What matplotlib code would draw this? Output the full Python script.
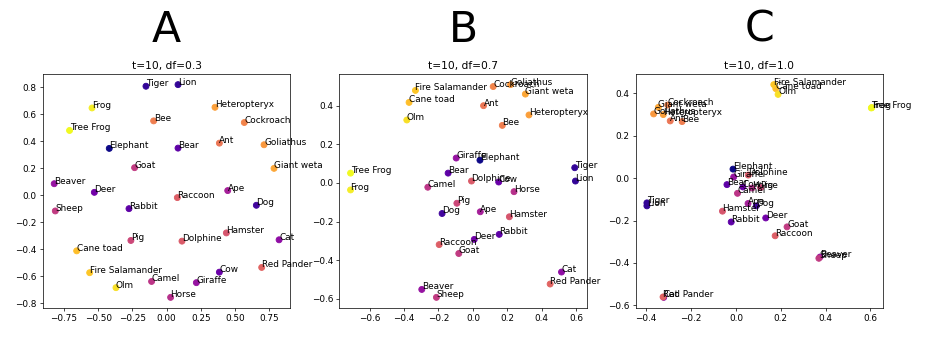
import matplotlib.pyplot as plt
import numpy as np

# animals and their colour value on the plasma map
animals = ["Elephant", "Tiger", "Lion", "Dog", "Bear", "Rabbit", "Cow", "Deer",
           "Cat", "Beaver", "Giraffe", "Ape", "Horse", "Camel", "Goat", "Sheep",
           "Pig", "Hamster", "Dolphine", "Raccoon", "Red Pander", "Ant", "Bee",
           "Cockroach", "Goliathus", "Heteropteryx", "Giant weta", "Cane toad",
           "Fire Salamander", "Olm", "Frog", "Tree Frog"]
shade = [0.0, 0.07, 0.07, 0.1, 0.17, 0.17, 0.2, 0.22,
         0.3, 0.32, 0.32, 0.36, 0.42, 0.44, 0.46, 0.46,
         0.5, 0.55, 0.57, 0.58, 0.6, 0.66, 0.68,
         0.7, 0.76, 0.78, 0.8, 0.86,
         0.88, 0.94, 0.97, 1.0]

# panel A: t=10, df=0.3
xa = [-0.419, -0.151, 0.083, 0.655, 0.083, -0.275, 0.385, -0.528,
      0.821, -0.821, 0.217, 0.446, 0.029, -0.110, -0.234, -0.813,
      -0.261, 0.436, 0.112, 0.078, 0.694, 0.385, -0.095,
      0.567, 0.711, 0.353, 0.784, -0.657,
      -0.562, -0.370, -0.545, -0.709]
ya = [0.348, 0.809, 0.821, -0.074, 0.350, -0.099, -0.570, 0.022,
      -0.330, 0.086, -0.648, 0.035, -0.757, -0.639, 0.205, -0.116,
      -0.335, -0.279, -0.340, -0.017, -0.535, 0.387, 0.552,
      0.540, 0.375, 0.653, 0.200, -0.412,
      -0.574, -0.685, 0.648, 0.481]

# panel B: t=10, df=0.7
xb = [0.041, 0.592, 0.596, -0.179, -0.144, 0.153, 0.150, 0.008,
      0.515, -0.297, -0.097, 0.043, 0.239, -0.262, -0.082, -0.212,
      -0.093, 0.212, -0.008, -0.196, 0.449, 0.062, 0.171,
      0.118, 0.219, 0.326, 0.305, -0.371,
      -0.334, -0.384, -0.711, -0.711]
yb = [0.118, 0.079, 0.010, -0.158, 0.051, -0.266, 0.005, -0.292,
      -0.461, -0.551, 0.129, -0.149, -0.045, -0.022, -0.365, -0.592,
      -0.105, -0.175, 0.010, -0.319, -0.523, 0.400, 0.298,
      0.499, 0.509, 0.352, 0.460, 0.417,
      0.479, 0.326, -0.036, 0.051]

# panel C: t=10, df=1.0
xc = [-0.013, -0.397, -0.397, 0.091, -0.040, -0.021, 0.031, 0.133,
      -0.322, 0.375, -0.010, 0.054, 0.072, 0.007, 0.228, 0.370,
      0.110, -0.060, 0.055, 0.175, -0.325, -0.293, -0.240,
      -0.304, -0.367, -0.324, -0.346, 0.178,
      0.169, 0.188, 0.606, 0.604]
yc = [0.042, -0.117, -0.131, -0.131, -0.031, -0.207, -0.042, -0.188,
      -0.562, -0.372, 0.005, -0.120, -0.047, -0.072, -0.230, -0.378,
      -0.045, -0.156, 0.014, -0.272, -0.560, 0.269, 0.266,
      0.344, 0.302, 0.299, 0.333, 0.421,
      0.440, 0.394, 0.332, 0.330]

panels = [("A", "t=10, df=0.3", xa, ya),
          ("B", "t=10, df=0.7", xb, yb),
          ("C", "t=10, df=1.0", xc, yc)]

fig, axes = plt.subplots(1, 3, figsize=(926 / 64, 349 / 64), dpi=64)
plt.subplots_adjust(left=0.0464, right=0.9536, bottom=0.1175, top=0.788, wspace=0.198)

colors = plt.cm.plasma(np.array(shade))

for ax, (letter, title, xs, ys) in zip(axes, panels):
    ax.scatter(xs, ys, c=colors, s=45)
    for name, x, y in zip(animals, xs, ys):
        ax.annotate(name, (x, y), fontsize=10)
    ax.set_title(title, fontsize=12)
    pos = ax.get_position()
    fig.text((pos.x0 + pos.x1) / 2, 0.88, letter, fontsize=48,
             ha="center", va="baseline")

plt.savefig("out.png", dpi=64)
